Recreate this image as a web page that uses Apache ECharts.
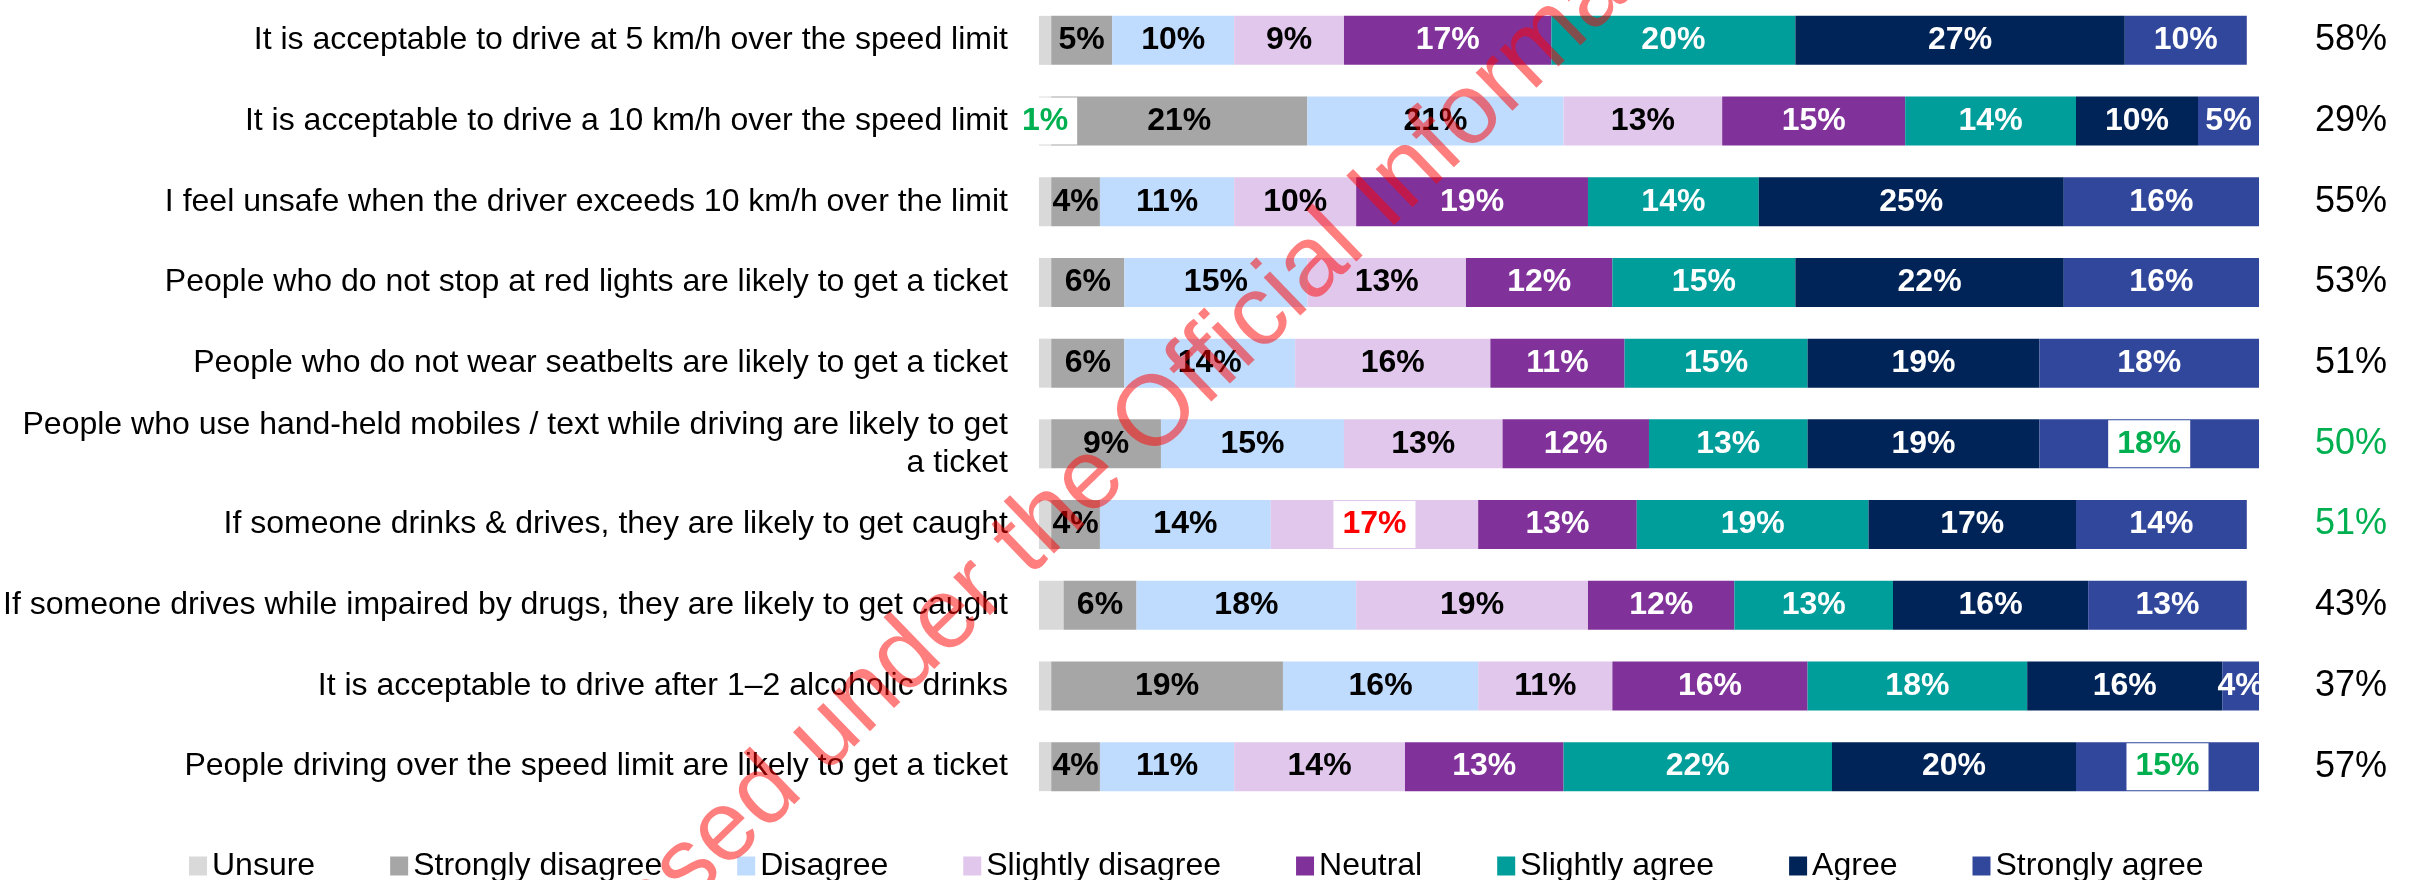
<!DOCTYPE html>
<html>
<head>
<meta charset="utf-8">
<title>Attitudes to enforcement</title>
<script src="https://cdn.jsdelivr.net/npm/echarts@6/dist/echarts.min.js"></script>
<style>
  html, body { margin: 0; padding: 0; background: #fff; }
  #chart { width: 2415px; height: 880px; }
</style>
</head>
<body>
<div id="chart"></div>
<script>
const categories = [
  'It is acceptable to drive at 5 km/h over the speed limit',
  'It is acceptable to drive a 10 km/h over the speed limit',
  'I feel unsafe when the driver exceeds 10 km/h over the limit',
  'People who do not stop at red lights are likely to get a ticket',
  'People who do not wear seatbelts are likely to get a ticket',
  'People who use hand-held mobiles / text while driving are likely to get\na ticket',
  'If someone drinks & drives, they are likely to get caught',
  'If someone drives while impaired by drugs, they are likely to get caught',
  'It is acceptable to drive after 1\u20132 alcoholic drinks',
  'People driving over the speed limit are likely to get a ticket'
]
const seriesNames = ['Unsure', 'Strongly disagree', 'Disagree', 'Slightly disagree', 'Neutral', 'Slightly agree', 'Agree', 'Strongly agree']
const unsure = [1, 1, 1, 1, 1, 1, 1, 2, 1, 1]
const stronglyDisagree = [5, 21, 4, 6, 6, 9, 4, 6, 19, 4]
const disagree = [10, 21, 11, 15, 14, 15, 14, 18, 16, 11]
const slightlyDisagree = [9, 13, 10, 13, 16, 13, 17, 19, 11, 14]
const neutral = [17, 15, 19, 12, 11, 12, 13, 12, 16, 13]
const slightlyAgree = [20, 14, 14, 15, 15, 13, 19, 13, 18, 22]
const agree = [27, 10, 25, 22, 19, 19, 17, 16, 16, 20]
const stronglyAgree = [10, 5, 16, 16, 18, 18, 14, 13, 4, 15]
const netAgree = [58, 29, 55, 53, 51, 50, 51, 43, 37, 57]

// [row, series, colour] cells shown with a white box
const boxed = [[1, 0, '#00b050'], [5, 7, '#00b050'], [6, 3, '#ff0000'], [9, 7, '#00b050']]
const greenTotals = [5, 6]

const values = [unsure, stronglyDisagree, disagree, slightlyDisagree, neutral, slightlyAgree, agree, stronglyAgree]
const colors = ['#d9d9d9', '#a6a6a6', '#bfdbfd', '#e1c7ec', '#80329a', '#009e9b', '#002458', '#31479c']
const labelColors = ['#000', '#000', '#000', '#000', '#fff', '#fff', '#fff', '#fff']
const font = 'Liberation Sans'

const series = seriesNames.map((name, s) => ({
  name: name,
  type: 'bar',
  stack: 'total',
  barWidth: 49,
  z: s === 0 ? 3 : 2,
  itemStyle: { color: colors[s] },
  emphasis: { disabled: true },
  label: {
    show: s !== 0,
    position: 'inside',
    color: labelColors[s],
    fontFamily: font,
    fontSize: 32,
    fontWeight: 'bold',
    formatter: p => p.value + '%'
  },
  data: values[s].map((v, row) => {
    const hit = boxed.find(b => b[0] === row && b[1] === s)
    if (!hit) return v
    return {
      value: v,
      label: {
        show: true,
        color: hit[2],
        backgroundColor: '#fff',
        padding: [8, 9, 7, 9]
      }
    }
  })
}))

const chart = echarts.init(document.getElementById('chart'))
chart.setOption({
  animation: false,
  textStyle: { fontFamily: font },
  grid: { left: 1038, right: 156, top: -10, bottom: 73 },
  xAxis: { type: 'value', min: 0, max: 100, show: false },
  yAxis: [
    {
      type: 'category',
      inverse: true,
      data: categories,
      axisLine: { show: false },
      axisTick: { show: false },
      axisLabel: { fontFamily: font, fontSize: 32, color: '#000', margin: 31, lineHeight: 38 }
    },
    {
      type: 'category',
      inverse: true,
      position: 'right',
      data: netAgree.map(v => v + '%'),
      axisLine: { show: false },
      axisTick: { show: false },
      axisLabel: {
        margin: 56,
        fontFamily: font,
        fontSize: 36,
        color: '#000',
        formatter: (v, i) => (greenTotals.includes(i) ? '{g|' + v + '}' : v),
        rich: { g: { color: '#00b050', fontFamily: font, fontSize: 36 } }
      }
    }
  ],
  legend: {
    data: seriesNames,
    left: 184,
    top: 845,
    icon: 'rect',
    itemWidth: 18,
    itemHeight: 19,
    itemGap: 75,
    selectedMode: false,
    textStyle: { fontFamily: font, fontSize: 32, color: '#000' }
  },
  graphic: [
    {
      type: 'text',
      x: 1167,
      y: 406,
      rotation: 0.768,
      z: 100,
      silent: true,
      style: {
        text: 'Released under the Official Information Act',
        font: '100px "Liberation Sans"',
        fill: 'rgba(255, 0, 0, 0.5)',
        textAlign: 'center',
        textVerticalAlign: 'middle'
      }
    }
  ],
  series: series
})
</script>
</body>
</html>
